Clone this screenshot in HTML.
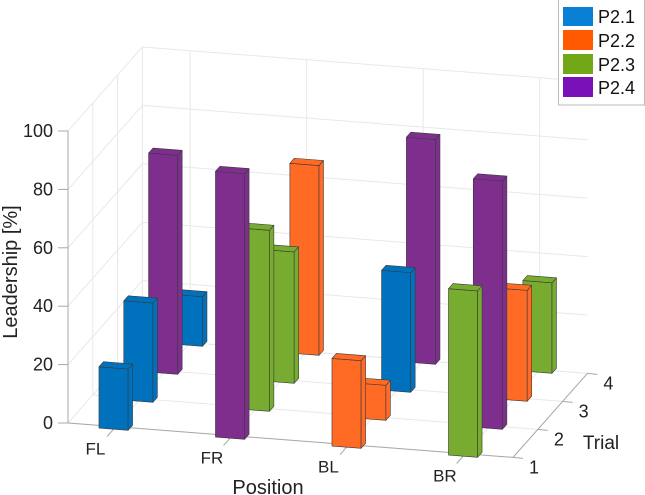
<!DOCTYPE html>
<html><head><meta charset="utf-8">
<style>
html,body{margin:0;padding:0;background:#fff;}
svg{display:block;font-family:"Liberation Sans",sans-serif;}
</style></head>
<body>
<svg id="chart" width="645" height="495" viewBox="0 0 645 495" xmlns="http://www.w3.org/2000/svg">
  <g id="grid"></g>
  <g id="axes"></g>
  <g id="bars"></g>
  <g id="labels"></g>
  <text x="0" y="0" transform="translate(17,272) rotate(-90)" text-anchor="middle" font-size="20" fill="#222">Leadership [%]</text>
  <text x="268" y="494" text-anchor="middle" font-size="20" fill="#222">Position</text>
  <text x="601" y="449" text-anchor="middle" font-size="19" fill="#222">Trial</text>
  <g>
    <rect x="558.5" y="-2" width="86" height="107" fill="#fff" stroke="#bbb" stroke-width="1"/>
    <rect x="563" y="7" width="30" height="19" fill="#0a7fd6"/>
    <text x="598" y="23" font-size="18" fill="#111">P2.1</text>
    <rect x="563" y="30" width="30" height="20" fill="#ff5a00"/>
    <text x="598" y="47" font-size="18" fill="#111">P2.2</text>
    <rect x="563" y="54" width="30" height="20" fill="#72a818"/>
    <text x="598" y="71" font-size="18" fill="#111">P2.3</text>
    <rect x="563" y="77" width="30" height="20" fill="#7a10b8"/>
    <text x="598" y="94" font-size="18" fill="#111">P2.4</text>
  </g>
</svg>
<script>
const positions = ['FL','FR','BL','BR'];
const trials = [1,2,3,4];
const zTicks = [0,20,40,60,80,100];
const trial1Values = [21,91,30,57];
const trial2Values = [34,62,12,85];
const trial3Values = [75,45,41,38];
const trial4Values = [17,65,77,31];
const trial1Leader = [0,3,1,2];
const trial2Leader = [0,2,1,3];
const trial3Leader = [3,2,0,1];
const trial4Leader = [0,1,3,2];
const seriesNames = ['P2.1','P2.2','P2.3','P2.4'];

const values = [trial1Values,trial2Values,trial3Values,trial4Values];
const leaders = [trial1Leader,trial2Leader,trial3Leader,trial4Leader];
const colors = ['#0072bd','#ff6a25','#77ac30','#7e2f8e'];
const NS='http://www.w3.org/2000/svg';
const P0=0.59,P1=4.41,T0=1,T1=4,ZMAX=100;
const C=[68,423], EX=[116.5,9], EY=[24.8,-28], EZ=-2.92;
function proj(p,t,z){return [C[0]+(p-P0)*EX[0]+(t-T0)*EY[0], C[1]+(p-P0)*EX[1]+(t-T0)*EY[1]+z*EZ];}
function mk(tag,attrs,parent){const e=document.createElementNS(NS,tag);for(const k in attrs)e.setAttribute(k,attrs[k]);parent.appendChild(e);return e;}
function line(a,b,stroke,parent,name){const e=mk('line',{x1:a[0],y1:a[1],x2:b[0],y2:b[1],stroke:stroke,'stroke-width':1},parent);


return e;}
const grid=document.getElementById('grid'),axes=document.getElementById('axes'),bars=document.getElementById('bars'),labels=document.getElementById('labels');
const GC='#e8e8e8';
positions.forEach((_,i)=>{line(proj(i+1,T1,0),proj(i+1,T1,ZMAX),GC,grid,'back-grid-vertical');});
zTicks.forEach(z=>{line(proj(P0,T1,z),proj(P1,T1,z),GC,grid,'back-grid-horizontal');line(proj(P0,T0,z),proj(P0,T1,z),GC,grid,'side-grid-horizontal');});
trials.forEach(t=>{line(proj(P0,t,0),proj(P0,t,ZMAX),GC,grid,'side-grid-vertical');line(proj(P0,t,0),proj(P1,t,0),GC,grid,'floor-grid-trial');});
positions.forEach((_,i)=>{line(proj(i+1,T0,0),proj(i+1,T1,0),GC,grid,'floor-grid-position');});
const AC='#a8a8a8';
line(proj(P0,T0,0),proj(P0,T0,ZMAX),AC,axes,'z-axis-line');
line(proj(P0,T0,0),proj(P1,T0,0),AC,axes,'position-axis-line');
line(proj(P1,T0,0),proj(P1,T1,0),AC,axes,'trial-axis-line');
zTicks.forEach(z=>{const a=proj(P0,T0,z);line([a[0]-10,a[1]],a,AC,axes,'z-tick');
 const tx=mk('text',{x:a[0]-15,y:a[1]+6,'text-anchor':'end','font-size':18,fill:'#222'},labels);tx.textContent=z;
 
 });
positions.forEach((n,i)=>{line(proj(i+1,T0,0),proj(i+1,T0-0.35,0),AC,axes,'position-tick');
 const a=proj(i+1,T0-0.7,0);const tx=mk('text',{x:a[0]-3,y:a[1]+8,'text-anchor':'middle','font-size':17,fill:'#222'},labels);tx.textContent=n;
 
 });
trials.forEach(t=>{const a=proj(P1,t,0);line(a,[a[0]+10,a[1]+1],AC,axes,'trial-tick');
 const tx=mk('text',{x:a[0]+21,y:a[1]+16,'text-anchor':'middle','font-size':18,fill:'#222'},labels);tx.textContent=t;
 
 });
const W=0.25,D=0.18;
const order=[];
for(let ti=trials.length-1;ti>=0;ti--)for(let pi=0;pi<positions.length;pi++)order.push([ti,pi]);
function poly(pts,fill,parent,name){const e=mk('polygon',{points:pts.map(q=>q.join(',')).join(' '),fill:fill,stroke:'#3a3a3a','stroke-width':0.6,'stroke-linejoin':'round'},parent);


return e;}
order.forEach(([ti,pi])=>{
 const v=values[ti][pi],c=colors[leaders[ti][pi]],p=pi+1,t=trials[ti];
 const g=mk('g',{},bars);
 
 
 const pl=p-W/2,pr=p+W/2,tf=t-D/2,tb=t+D/2;
 poly([proj(pl,tf,0),proj(pr,tf,0),proj(pr,tf,v),proj(pl,tf,v)],c,g,'bar-front-face');
 poly([proj(pr,tf,0),proj(pr,tb,0),proj(pr,tb,v),proj(pr,tf,v)],c,g,'bar-side-face');
 poly([proj(pl,tf,v),proj(pr,tf,v),proj(pr,tb,v),proj(pl,tb,v)],c,g,'bar-top-face');
});
</script>
</body></html>
